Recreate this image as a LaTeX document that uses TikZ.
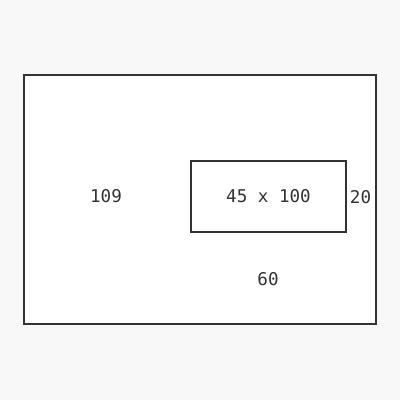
\documentclass[tikz,border=0pt]{standalone}
\usepackage{fontspec}
\newfontfamily\monofont{DejaVu Sans Mono}
\usetikzlibrary{positioning}
\definecolor{pagegray}{HTML}{F8F8F8}
\definecolor{linegray}{HTML}{333333}
\tikzset{
  every node/.style={
    align=center,
    draw=none,
    text=linegray,
    font=\monofont\fontsize{12.5}{14}\selectfont,
  },
  outerbox/.style={draw=linegray, line width=1.4pt, fill=white},
  windowbox/.style={draw=linegray, line width=1.1pt},
}

\begin{document}
\begin{tikzpicture}[x=0.25mm,y=-0.25mm]
    \fill[pagegray] (0,0) rectangle (400,400);
    \useasboundingbox (0,0) rectangle (400,400);
    \draw[outerbox] (24,75) rectangle (376,324);
    \node[windowbox, minimum width=155*0.25mm, minimum height=71*0.25mm] (window) at (268.5,196.5) {45 x 100};
    \node (left) at (106,196) {109};
    \node (right) at (360.5,197) {20};
    \node (bottom) at (268,279) {60};
  \end{tikzpicture}
\end{document}
